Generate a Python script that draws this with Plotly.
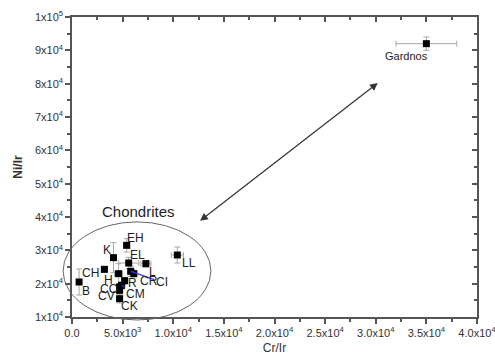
import plotly.graph_objects as go

# ---- data ----
groups = ["EH", "K", "EL", "L", "LL", "CH", "B", "H", "CI", "CR", "R", "CM", "CO", "CV", "CK"]
cr_ir = [5400, 4100, 5600, 7300, 10400, 3200, 700, 4600, 5800, 6100, 5200, 4900, 4700, 4700, 4700]
ni_ir = [31500, 27800, 26200, 26000, 28600, 24300, 20500, 23000, 23700, 23000, 20900, 19500, 19000, 18000, 15500]
cr_err = [300, 300, 1000, 500, 600, 300, 200, 400, 300, 300, 300, 300, 300, 300, 300]
ni_err = [2000, 4500, 1700, 1000, 2400, 800, 3900, 3000, 1500, 1000, 1000, 1000, 1000, 1000, 1300]

gardnos_name = "Gardnos"
gardnos_cr = [35000]
gardnos_ni = [92000]
gardnos_cr_err = [3000]
gardnos_ni_err = [2000]

x_tickvals = [0, 5000, 10000, 15000, 20000, 25000, 30000, 35000, 40000]
x_ticktext = ["0.0", "5.0x10<sup>3</sup>", "1.0x10<sup>4</sup>", "1.5x10<sup>4</sup>", "2.0x10<sup>4</sup>",
              "2.5x10<sup>4</sup>", "3.0x10<sup>4</sup>", "3.5x10<sup>4</sup>", "4.0x10<sup>4</sup>"]
y_tickvals = [10000, 20000, 30000, 40000, 50000, 60000, 70000, 80000, 90000, 100000]
y_ticktext = ["1x10<sup>4</sup>", "2x10<sup>4</sup>", "3x10<sup>4</sup>", "4x10<sup>4</sup>", "5x10<sup>4</sup>",
              "6x10<sup>4</sup>", "7x10<sup>4</sup>", "8x10<sup>4</sup>", "9x10<sup>4</sup>", "1x10<sup>5</sup>"]

# label offsets (pixels, dx right, dy up) -- styling
label_off = {
    "EH": (9, 7), "K": (-7, 8), "EL": (9, 8), "L": (7, -8), "LL": (12, -8), "CH": (-14, -4),
    "B": (7, -9), "H": (-10, -6), "CR": (15, -7), "R": (8, -2), "CO": (-11, -2),
    "CV": (-13, -6), "CK": (10, -7),
}
leader_off = {"CI": (31, 11), "CM": (14, 9)}  # ax, ay (ay down)

FONT = "Arial, Liberation Sans, sans-serif"
TXT = "#222222"

fig = go.Figure()
err_style = dict(color="#a8a8a8", thickness=1, width=3)
fig.add_trace(go.Scatter(
    x=cr_ir, y=ni_ir, mode="markers",
    marker=dict(symbol="square", size=7, color="black"),
    error_x=dict(type="data", array=cr_err, **err_style),
    error_y=dict(type="data", array=ni_err, **err_style),
    showlegend=False, hoverinfo="skip"))
fig.add_trace(go.Scatter(
    x=gardnos_cr, y=gardnos_ni, mode="markers",
    marker=dict(symbol="square", size=7, color="black"),
    error_x=dict(type="data", array=gardnos_cr_err, **err_style),
    error_y=dict(type="data", array=gardnos_ni_err, **err_style),
    showlegend=False, hoverinfo="skip"))
# dummy trace for mirrored axes
fig.add_trace(go.Scatter(x=[None], y=[None], xaxis="x2", yaxis="y2", showlegend=False))

ann = []
for g, xv, yv in zip(groups, cr_ir, ni_ir):
    if g in label_off:
        dx, dy = label_off[g]
        ann.append(dict(x=xv, y=yv, text=g, showarrow=False, xshift=dx, yshift=dy,
                        font=dict(family=FONT, size=12, color=TXT)))
    elif g in leader_off:
        ax, ay = leader_off[g]
        ann.append(dict(x=xv, y=yv, text=g, showarrow=True, arrowhead=0, arrowwidth=1.2,
                        arrowcolor="#3030ff", ax=ax, ay=ay, standoff=0,
                        font=dict(family=FONT, size=12, color=TXT)))
ann.append(dict(x=gardnos_cr[0], y=gardnos_ni[0], text=gardnos_name, showarrow=False,
                xshift=-20, yshift=-12, font=dict(family=FONT, size=11, color=TXT)))
ann.append(dict(x=0.163, y=0.352, xref="paper", yref="paper", xanchor="center", yanchor="middle",
                text="Chondrites", showarrow=False,
                font=dict(family=FONT, size=15, color=TXT)))
# double-headed arrow
ann.append(dict(x=30200, y=80200, ax=12500, ay=38500, axref="x", ayref="y", xref="x", yref="y",
                text="", showarrow=True, arrowhead=2, startarrowhead=2, arrowside="end+start",
                arrowsize=1.3, startarrowsize=1.3, arrowwidth=1.2, arrowcolor="#333333"))

fig.add_shape(type="circle", xref="paper", yref="paper",
              x0=-0.022, x1=0.343, y0=-0.01, y1=0.317,
              line=dict(color="#666666", width=1))

axis_common = dict(showgrid=False, zeroline=False, showline=True, linecolor="#555555", linewidth=1.5,
                   ticks="outside", ticklen=5, tickwidth=1.5, tickcolor="#555555", automargin=False,
                   ticklabeloverflow="allow",
                   tickfont=dict(family=FONT, size=11, color="#333333"))

fig.update_layout(
    width=495, height=362,
    margin=dict(l=72, r=18, t=17, b=45),
    paper_bgcolor="white", plot_bgcolor="white",
    annotations=ann,
    xaxis=dict(range=[0, 40000], tickvals=x_tickvals, ticktext=x_ticktext,
               minor=dict(dtick=2500, ticks="outside", ticklen=3, tickcolor="#555555"),
               title=dict(text="Cr/Ir", font=dict(family=FONT, size=12, color="#333333"), standoff=6),
               **axis_common),
    yaxis=dict(range=[10000, 100000], tickvals=y_tickvals, ticktext=y_ticktext,
               minor=dict(dtick=5000, tick0=5000, ticks="outside", ticklen=3, tickcolor="#555555"),
               title=dict(text="<b>Ni/Ir</b>", font=dict(family=FONT, size=12, color="#333333"), standoff=10),
               **axis_common),
    xaxis2=dict(range=[0, 40000], overlaying="x", side="top", showticklabels=False, automargin=False,
                showgrid=False, zeroline=False, showline=True, linecolor="#555555", linewidth=1.5,
                ticks="inside", tickvals=x_tickvals, ticklen=5, tickwidth=1.5, tickcolor="#555555",
                minor=dict(dtick=2500, ticks="inside", ticklen=3, tickcolor="#555555")),
    yaxis2=dict(range=[10000, 100000], overlaying="y", side="right", showticklabels=False, automargin=False,
                showgrid=False, zeroline=False, showline=True, linecolor="#555555", linewidth=1.5,
                ticks="inside", tickvals=y_tickvals, ticklen=5, tickwidth=1.5, tickcolor="#555555",
                minor=dict(dtick=5000, tick0=5000, ticks="inside", ticklen=3, tickcolor="#555555")),
)

fig.write_html("out.html", config={"displayModeBar": False},
               post_script="document.body.style.margin='0';document.body.style.overflow='hidden';")
